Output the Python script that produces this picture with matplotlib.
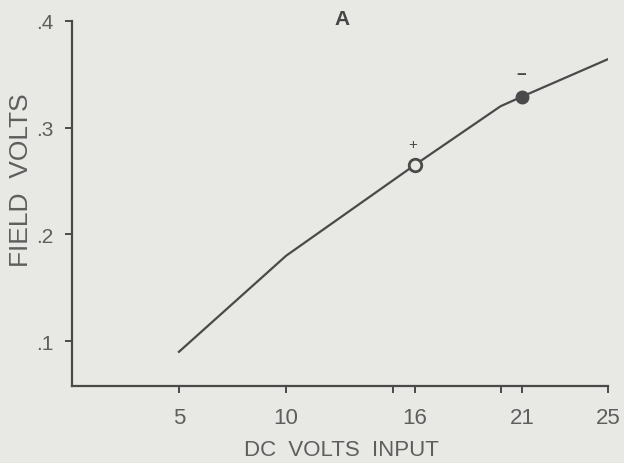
import matplotlib.pyplot as plt

dc_volts = [5, 10, 16, 20, 21, 25]
field_volts = [0.09, 0.18, 0.265, 0.32, 0.329, 0.364]

open_pt = (16, 0.265)    # "+" point
filled_pt = (21, 0.329)  # "-" point

x_ticks = [5, 10, 15, 16, 20, 21, 25]
x_labels = ['5', '10', '', '16', '', '21', '25']
y_ticks = [0.1, 0.2, 0.3, 0.4]
y_labels = ['.1', '.2', '.3', '.4']

ink = '#4a4a4a'
txt = '#5e5e5e'
bg = '#e8e8e5'

plt.rcParams['font.family'] = ['Liberation Sans', 'DejaVu Sans']

fig = plt.figure(figsize=(6.24, 4.64), dpi=100, facecolor=bg)
ax = fig.add_axes([0.115, 0.166, 0.859, 0.787])
ax.set_facecolor(bg)

ax.plot(dc_volts, field_volts, color=ink, lw=1.6, zorder=2)
ax.plot(*open_pt, 'o', ms=9, mfc=bg, mec=ink, mew=2, zorder=3)
ax.plot(*filled_pt, 'o', ms=9, mfc=ink, mec=ink, zorder=3)
ax.text(open_pt[0] - 0.1, open_pt[1] + 0.013, '+', color=ink, fontsize=11, ha='center', va='bottom')
ax.text(filled_pt[0] - 0.05, filled_pt[1] + 0.014, '−', color=ink, fontsize=12, fontweight='bold',
        ha='center', va='bottom')
ax.text(12.6, 0.402, 'A', color='#454545', fontsize=15, fontweight='bold', ha='center', va='center')

ax.set_xlim(0, 25)
ax.set_ylim(0.058, 0.4)
ax.set_xticks(x_ticks)
ax.set_xticklabels(x_labels)
ax.set_yticks(y_ticks)
ax.set_yticklabels(y_labels)

for s in ['top', 'right']:
    ax.spines[s].set_visible(False)
for s in ['left', 'bottom']:
    ax.spines[s].set_color(ink)
    ax.spines[s].set_linewidth(1.6)

ax.tick_params(colors=ink, labelcolor=txt, width=1.4, length=5, direction='out')
ax.tick_params(axis='x', labelsize=16, pad=10)
ax.tick_params(axis='y', labelsize=15, pad=8)

ax.set_xlabel('DC  VOLTS  INPUT', fontsize=16, color=txt)
ax.xaxis.set_label_coords(0.503, -0.145)
ax.set_ylabel('FIELD  VOLTS', fontsize=19, color=txt)
ax.yaxis.set_label_coords(-0.072, 0.567)

plt.savefig('out.png', dpi=100, facecolor=bg)
